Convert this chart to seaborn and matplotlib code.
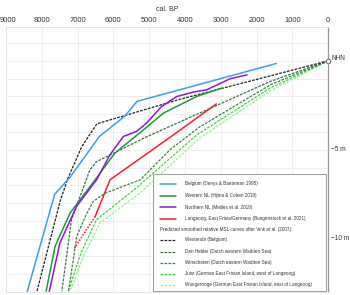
import matplotlib
matplotlib.use("Agg")
import matplotlib.pyplot as plt
import seaborn as sns
import pandas as pd
from matplotlib.lines import Line2D
from matplotlib.patches import Rectangle
from matplotlib.transforms import ScaledTranslation

# ---------------- data (cal. BP, m relative to NHN) ----------------
belgium_age = [1450, 5340, 5690, 6390, 7220, 7640, 8410]
belgium_depth = [-0.15, -2.28, -3.13, -4.25, -6.57, -7.50, -13.0]

western_age = [2970, 3670, 4600, 5160, 5960, 6510, 7210, 7630, 7880]
western_depth = [-1.53, -2.0, -2.94, -3.88, -5.19, -6.69, -8.56, -10.43, -12.96]

northern_age = [2270, 2745, 3395, 3770, 4235, 4655, 5075, 5350, 5720, 6095, 6470, 7030, 7495, 7790]
northern_depth = [-0.79, -1.01, -1.63, -1.76, -2.01, -2.57, -3.5, -3.97, -4.25, -5.28, -6.69, -8.19, -10.24, -12.96]

langeoog_age = [3130, 4320, 6095, 6510]
langeoog_depth = [-2.43, -4.16, -6.69, -8.75]
langeoog_ext_age = [6510, 7115]
langeoog_ext_depth = [-8.75, -10.62]

westende_age = [0, 4190, 5530, 6460, 6880, 7270, 7490, 8140]
westende_depth = [0, -2.19, -2.99, -3.54, -4.81, -6.6, -7.9, -13.0]

denhelder_age = [0, 1620, 3760, 5070, 6470, 6655, 7170, 7440]
denhelder_depth = [0, -1.16, -3.09, -4.27, -5.67, -6.12, -8.93, -12.96]

winschoten_age = [0, 1620, 3585, 4420, 5250, 6230, 6560, 6750, 7025, 7255]
winschoten_depth = [0, -1.35, -3.71, -5.0, -6.69, -7.44, -7.9, -8.6, -9.87, -12.96]

juist_age = [0, 1620, 3670, 5350, 6470, 6890, 7260]
juist_depth = [0, -1.53, -4.16, -7.13, -8.93, -10.71, -12.96]

wangerooge_age = [0, 1620, 3580, 5250, 6370, 6840, 7210]
wangerooge_depth = [0, -1.69, -4.33, -7.42, -9.10, -11.0, -12.96]

x_ticks = [9000, 8000, 7000, 6000, 5000, 4000, 3000, 2000, 1000, 0]
y_ticks = [0, -5, -10]
y_ticklabels = ["NHN", "\u22125 m", "\u221210 m"]

solid_labels = ["Belgium (Denys & Baeteman 1995)",
                "Western NL (Hijma & Cohen 2019)",
                "Northern NL (Meijles et al. 2018)",
                "Langeoog, East Frisia/Germany (Bungenstock et al. 2021)"]
legend_header = "Predicted smoothed relative MSL curves after Vink et al. (2007):"
dashed_labels = ["Westende (Belgium)",
                 "Den Helder (Dutch western Wadden Sea)",
                 "Winschoten (Dutch eastern Wadden Sea)",
                 "Juist (German East Frisian Island, west of Langeoog)",
                 "Wangerooge (German East Frisian Island, east of Langeoog)"]

# ---------------- styles ----------------
c_blue = "#3aa0ee"
c_wnl = "#1e9a3c"
c_purple = "#8a1ad6"
c_red = "#ee2230"
c_black = "#222222"
c_denh = "#3a6e46"
c_wins = "#2f8a42"
c_juist = "#3cd43c"
c_wang = "#90f090"

sns.set_theme(style="white")
plt.rcParams["font.family"] = ["Liberation Sans", "DejaVu Sans"]

W, H = 350, 295
fig = plt.figure(figsize=(W / 100, H / 100), dpi=100)
ax = fig.add_axes([6 / W, 1 - 292 / H, (328.3 - 6) / W, (292 - 27) / H])

dash = (0, (2.2, 1.0))

def draw(age, depth, color, lw, ls="-"):
    df = pd.DataFrame({"age": age, "depth": depth})
    sns.lineplot(data=df, x="age", y="depth", sort=False, estimator=None,
                 color=color, linewidth=lw, linestyle=ls, ax=ax, zorder=3)

draw(wangerooge_age, wangerooge_depth, c_wang, 0.9, dash)
draw(juist_age, juist_depth, c_juist, 0.9, dash)
draw(winschoten_age, winschoten_depth, c_wins, 0.9, dash)
draw(denhelder_age, denhelder_depth, c_denh, 0.9, dash)
draw(westende_age, westende_depth, c_black, 0.9, dash)
draw(belgium_age, belgium_depth, c_blue, 1.1)
draw(western_age, western_depth, c_wnl, 1.1)
draw(northern_age, northern_depth, c_purple, 1.1)
draw(langeoog_age, langeoog_depth, c_red, 1.1)
draw(langeoog_ext_age, langeoog_ext_depth, c_red, 1.1, (0, (1.0, 1.0)))

ax.plot([0], [0], marker="o", ms=3.2, mfc="white", mec="#777777", mew=0.8,
        clip_on=False, zorder=5)

ax.set_xlim(9000, 0)
ax.set_ylim(-13.0, 1.9)
ax.set_xticks(x_ticks)
ax.set_xticklabels([str(t) for t in x_ticks])
ax.set_yticks(range(-13, 2))
ax.set_yticklabels(["" for _ in range(-13, 2)])
ax.xaxis.tick_top()
ax.xaxis.set_label_position("top")
ax.set_xlabel("cal. BP", fontsize=5.0, color="#333333", labelpad=4.5)
ax.set_ylabel("")
ax.tick_params(axis="x", length=0, pad=2.2, labelsize=5.4, colors="#333333")
ax.tick_params(axis="y", length=0, labelleft=False, labelright=False)
# nudge the leftmost label so it stays inside the picture
first = ax.get_xticklabels()[0]
first.set_transform(first.get_transform() + ScaledTranslation(1.5 / 100, 0, fig.dpi_scale_trans))
ax.grid(True, color="#ebebeb", linewidth=0.6)
for s in ["left", "top", "bottom"]:
    ax.spines[s].set_color("#e0e0e0")
    ax.spines[s].set_linewidth(0.6)
ax.spines["right"].set_color("#999999")
ax.spines["right"].set_linewidth(0.9)

# right side labels at depth ticks
for v, lab in zip(y_ticks, y_ticklabels):
    ax.annotate(lab, xy=(1, v), xycoords=("axes fraction", "data"),
                xytext=(2.0, 2 if v == 0 else 0), textcoords="offset points",
                ha="left", va="center", fontsize=4.7, color="#333333",
                annotation_clip=False)

# ---------------- legend (figure pixel coordinates) ----------------
def fx(px):
    return px / W

def fy(py):
    return 1 - py / H

box = Rectangle((fx(153), fy(291)), fx(326) - fx(153), fy(174) - fy(291),
                transform=fig.transFigure, facecolor="white", edgecolor="#9a9a9a",
                linewidth=0.7, zorder=10)
fig.add_artist(box)

rows = [184, 195.5, 207, 218.5]
solid_colors = [c_blue, c_wnl, c_purple, c_red]
for yy, lab, col in zip(rows, solid_labels, solid_colors):
    fig.add_artist(Line2D([fx(160), fx(175.5)], [fy(yy), fy(yy)], color=col,
                          linewidth=1.1, transform=fig.transFigure, zorder=11))
    fig.text(fx(185), fy(yy), lab, fontsize=3.3, color="#333333", va="center",
             ha="left", zorder=11)

fig.text(fx(159.5), fy(229.5), legend_header, fontsize=3.3, color="#333333",
         va="center", ha="left", zorder=11)

rows2 = [240, 251.5, 262.5, 273.5, 284.5]
dash_colors = [c_black, c_denh, c_wins, c_juist, c_wang]
for yy, lab, col in zip(rows2, dashed_labels, dash_colors):
    fig.add_artist(Line2D([fx(160), fx(175.5)], [fy(yy), fy(yy)], color=col,
                          linewidth=0.9, linestyle=dash,
                          transform=fig.transFigure, zorder=11))
    fig.text(fx(185), fy(yy), lab, fontsize=3.3, color="#333333", va="center",
             ha="left", zorder=11)

fig.savefig("out.png", dpi=100)
